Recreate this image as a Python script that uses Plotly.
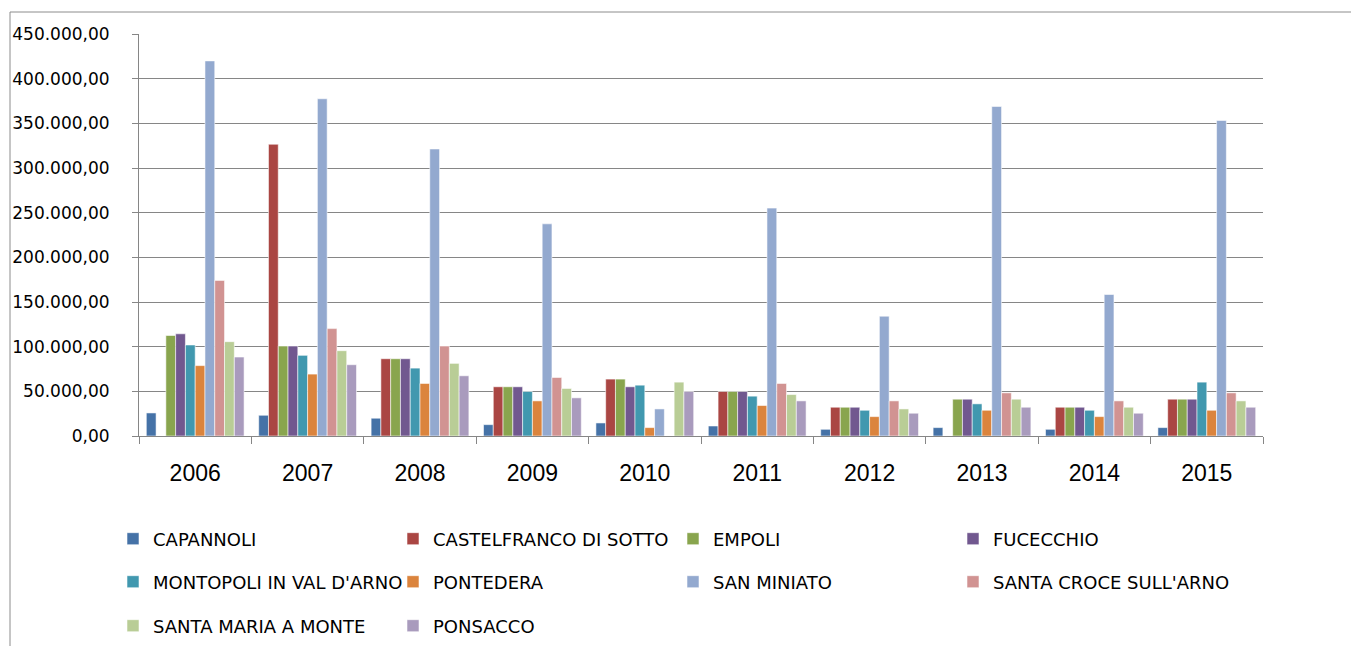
import plotly.graph_objects as go

years = ["2006", "2007", "2008", "2009", "2010", "2011", "2012", "2013", "2014", "2015"]

capannoli = [25800, 23200, 19900, 12700, 14600, 11200, 7500, 9400, 7500, 9400]
castelfranco = [0, 326600, 86500, 55100, 63700, 49800, 32200, 0, 32200, 41200]
empoli = [112500, 100700, 86500, 55100, 63700, 49800, 32200, 41200, 32200, 41200]
fucecchio = [114400, 100700, 86500, 55100, 55100, 49800, 32200, 41200, 32200, 41200]
montopoli = [101900, 90300, 76000, 49800, 56900, 44600, 28800, 36000, 28800, 60300]
pontedera = [78800, 69300, 58800, 39300, 9400, 34100, 21700, 28800, 21700, 28800]
san_miniato = [419900, 377500, 321300, 237500, 30300, 255100, 134100, 368900, 158400, 353200]
santa_croce = [174200, 120200, 100700, 65500, 0, 58800, 39300, 48300, 39300, 48300]
santa_maria = [105600, 95500, 81300, 53200, 60300, 46400, 30300, 41200, 32200, 39300]
ponsacco = [88400, 79800, 67400, 42700, 49800, 39300, 25500, 32200, 25500, 32200]

names = ["CAPANNOLI", "CASTELFRANCO DI SOTTO", "EMPOLI", "FUCECCHIO",
         "MONTOPOLI IN VAL D'ARNO", "PONTEDERA", "SAN MINIATO",
         "SANTA CROCE SULL'ARNO", "SANTA MARIA A MONTE", "PONSACCO"]
series = [capannoli, castelfranco, empoli, fucecchio, montopoli, pontedera,
          san_miniato, santa_croce, santa_maria, ponsacco]
colors = ["#4572A7", "#AA4643", "#89A54E", "#71588F", "#4198AF", "#DB843D",
          "#93A9CF", "#D19392", "#B9CD96", "#A99BBD"]
legend_ids = ["legend"] * 4 + ["legend2"] * 4 + ["legend3"] * 2

FONT = "DejaVu Sans"
fig = go.Figure()
for name, vals, col, lg in zip(names, series, colors, legend_ids):
    fig.add_trace(go.Bar(
        x=years, y=vals, name=name, legend=lg,
        marker=dict(color=col, line=dict(color="rgba(255,255,255,0.55)", width=1)),
    ))

OFF = 8  # page body margin
W, H = 1359 - OFF, 646 - OFF
L = 139 - OFF
T = 34 - OFF
R = W - (1263 - OFF)
B = H - (436 - OFF)
pw, ph = W - L - R, H - T - B

def px_x(sx):
    return (sx - OFF - L) / pw

def px_y(sy):
    return (H - B - (sy - OFF)) / ph

def cx(sx):
    return (sx - OFF) / W

def cy(sy):
    return 1 - (sy - OFF) / H

leg_common = dict(orientation="h", xanchor="left", yanchor="middle",
                  xref="container", yref="container",
                  entrywidth=235, entrywidthmode="pixels",
                  font=dict(family=FONT, size=18, color="#000000"),
                  bgcolor="rgba(0,0,0,0)", traceorder="normal")

fig.update_layout(
    width=W, height=H,
    margin=dict(l=L, r=R, t=T, b=B, pad=0, autoexpand=False),
    paper_bgcolor="white", plot_bgcolor="white",
    separators=",.",
    barmode="group", bargap=0.13, bargroupgap=0,
    font=dict(family=FONT, size=17, color="#000000"),
    legend=dict(x=cx(113), y=cy(539), **leg_common),
    legend2=dict(x=cx(113), y=cy(582), **leg_common),
    legend3=dict(x=cx(113), y=cy(626), **leg_common),
    xaxis=dict(
        type="category", showgrid=False, showline=True, linecolor="#868686",
        linewidth=1, ticks="outside", tickson="boundaries", ticklen=7,
        tickcolor="#868686",
        tickfont=dict(family="Liberation Sans", size=23, color="#000000"),
        ticklabelstandoff=16, automargin=False,
    ),
    yaxis=dict(
        range=[0, 450000], tick0=0, dtick=50000, tickformat=",.2f",
        showgrid=True, gridcolor="#868686", gridwidth=1,
        showline=True, linecolor="#868686", linewidth=1,
        ticks="outside", ticklen=6, tickcolor="#868686",
        tickfont=dict(family=FONT, size=17, color="#000000"),
        ticklabelstandoff=19, zeroline=False, automargin=False,
    ),
    shapes=[dict(
        type="path", xref="paper", yref="paper",
        path=f"M {px_x(10)} {px_y(700)} L {px_x(10)} {px_y(12)} L {px_x(1400)} {px_y(12)}",
        line=dict(color="#8c8c8c", width=1),
    )],
)

fig.write_html("out.html")
